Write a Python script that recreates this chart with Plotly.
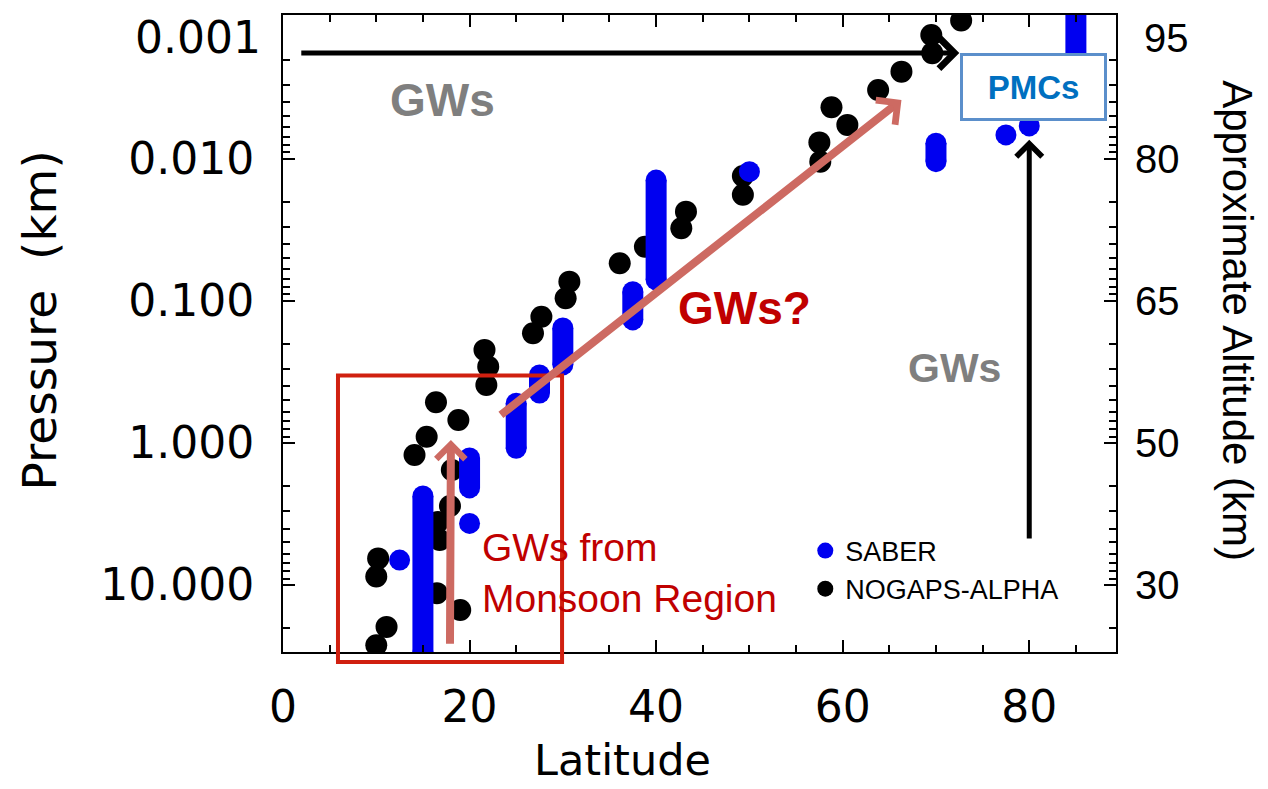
import math
import plotly.graph_objects as go

# ---------------- data ----------------
nogaps_lat = [10.0, 11.1, 10.2, 10.0, 16.5, 19.0, 16.6, 16.8, 17.9, 18.1, 14.1, 15.4,
              16.4, 18.8, 21.8, 22.0, 21.6, 26.8, 27.7, 30.3, 30.7, 36.1, 38.8, 42.7,
              43.2, 49.3, 49.3, 57.6, 57.5, 58.8, 60.5, 63.8, 66.3, 69.6, 69.5, 72.7]
nogaps_p = [26.5, 19.7, 6.49, 8.71, 11.4, 15.0, 3.60, 4.82, 2.78, 1.55, 1.215, 0.903,
            0.517, 0.689, 0.390, 0.290, 0.221, 0.169, 0.129, 0.0957, 0.0731, 0.0543, 0.0415, 0.0308,
            0.0235, 0.0179, 0.0132, 0.01045, 0.00765, 0.00433, 0.00576, 0.00327, 0.00243, 0.0018, 0.00134, 0.00106]

# SABER: vertical runs of levels (latitude, top pressure, bottom pressure)
saber_col_lat = [15, 20, 25, 27.5, 30, 37.5, 40, 70, 85]
saber_col_top = [2.36, 1.275, 0.525, 0.332, 0.155, 0.086, 0.0141, 0.00775, 0.0008]
saber_col_bottom = [30, 2.07, 1.09, 0.445, 0.282, 0.136, 0.0711, 0.01045, 0.0021]
# SABER: isolated points
saber_pt_lat = [12.5, 20, 50, 77.5, 80]
saber_pt_p = [6.67, 3.68, 0.0123, 0.00678, 0.00586]

pressure_ticks = [0.01, 0.1, 1, 10]
pressure_labels = ["0.010", "0.100", "1.000", "10.000"]
altitude_labels = ["80", "65", "50", "30"]
top_pressure_label = "0.001"
top_altitude_label = "95"
lat_ticks = [0, 20, 40, 60, 80]

# ---------------- build ----------------
L = math.log10
BLUE = "#0000f0"
SALMON = "#cd6a62"
DARKRED = "#c00000"
GRAY = "#7f7f7f"
ARIAL = "Liberation Sans"
TICKFONT = dict(family="DejaVu Sans", size=44, color="black")

col_x, col_y = [], []
for la, t, b in zip(saber_col_lat, saber_col_top, saber_col_bottom):
    col_x += [la, la, None]
    col_y += [t, b, None]

sab_x, sab_y = [], []
for la, t, b in zip(saber_col_lat, saber_col_top, saber_col_bottom):
    sab_x += [la, la]
    sab_y += [t, b]
sab_x += saber_pt_lat
sab_y += saber_pt_p

fig = go.Figure()
fig.add_trace(go.Scatter(x=nogaps_lat, y=nogaps_p, mode="markers", name="NOGAPS-ALPHA",
                         marker=dict(color="black", size=22, line=dict(width=0))))
fig.add_trace(go.Scatter(x=col_x, y=col_y, mode="lines", showlegend=False,
                         line=dict(color=BLUE, width=21), hoverinfo="skip"))
fig.add_trace(go.Scatter(x=sab_x, y=sab_y, mode="markers", name="SABER",
                         marker=dict(color=BLUE, size=21, line=dict(width=0))))
# carrier for the top / right axes
fig.add_trace(go.Scatter(x=[], y=[], xaxis="x2", yaxis="y2", showlegend=False))

y_minor = [m * 10 ** e for e in range(-3, 2) for m in range(2, 10)]
yrange = [L(29.6), L(0.00097)]
xrange = [0, 89.3]

minor_x = dict(dtick=5, ticks="inside", ticklen=7, tickwidth=2, tickcolor="black")
minor_y = dict(tickvals=y_minor, ticks="inside", ticklen=7, tickwidth=2, tickcolor="black")

# the page adds an 8 px body margin at the top-left, so the figure is shifted by 8 px
fig.update_layout(
    width=1260, height=781,
    margin=dict(l=275, r=152, t=7, b=137),
    paper_bgcolor="white", plot_bgcolor="white",
    xaxis=dict(range=xrange, tickvals=lat_ticks, ticks="inside", ticklen=12, tickwidth=2,
               tickcolor="black", showline=True, linecolor="black", linewidth=2, mirror=True,
               showgrid=False, zeroline=False, tickfont=TICKFONT, ticklabelstandoff=15,
               automargin=False, minor=minor_x),
    xaxis2=dict(range=xrange, overlaying="x", side="top", anchor="y2", tickvals=lat_ticks,
                ticks="inside", ticklen=12, tickwidth=2, tickcolor="black", showticklabels=False,
                showline=False, showgrid=False, zeroline=False, automargin=False, minor=minor_x),
    yaxis=dict(type="log", range=yrange, tickvals=pressure_ticks, ticktext=pressure_labels,
               ticks="inside", ticklen=12, tickwidth=2, tickcolor="black", showline=True,
               linecolor="black", linewidth=2, mirror=True, showgrid=False, zeroline=False,
               tickfont=TICKFONT, ticklabelstandoff=18, automargin=False, minor=minor_y),
    yaxis2=dict(type="log", range=yrange, overlaying="y", side="right", anchor="x2",
                tickvals=pressure_ticks, ticktext=altitude_labels, ticks="inside", ticklen=12,
                tickwidth=2, tickcolor="black", showline=False, showgrid=False, zeroline=False,
                tickfont=dict(family=ARIAL, size=40, color="black"), ticklabelstandoff=18,
                automargin=False, minor=minor_y),
    legend=dict(x=0.627, y=0.197, xanchor="left", yanchor="top", traceorder="reversed",
                bgcolor="rgba(0,0,0,0)", font=dict(family=ARIAL, size=27, color="black"),
                itemsizing="trace", tracegroupgap=0),
    showlegend=True,
)

# top tick labels (drawn slightly below the 0.001 tick as in the original)
fig.add_annotation(xref="paper", yref="y", x=0, y=L(0.001), xanchor="right", yanchor="middle",
                   xshift=-20, yshift=-21, text=top_pressure_label, showarrow=False,
                   font=TICKFONT)
fig.add_annotation(xref="paper", yref="y", x=1, y=L(0.001), xanchor="left", yanchor="middle",
                   xshift=26, yshift=-21, text=top_altitude_label, showarrow=False,
                   font=dict(family=ARIAL, size=40, color="black"))

# axis titles
fig.add_annotation(xref="paper", yref="paper", x=0.408, y=-0.211, xanchor="center",
                   yanchor="bottom", text="Latitude", showarrow=False, borderpad=0,
                   font=dict(family="DejaVu Sans", size=43, color="black"))
fig.add_annotation(xref="paper", yref="paper", x=-0.292, y=0.52, xanchor="center",
                   yanchor="middle", text="Pressure  (km)", textangle=-90, showarrow=False,
                   font=dict(family="DejaVu Sans", size=47, color="black"))
fig.add_annotation(xref="paper", yref="paper", x=1.146, y=0.52, xanchor="center",
                   yanchor="middle", text="Approximate Altitude (km)", textangle=90,
                   showarrow=False, font=dict(family=ARIAL, size=42, color="black"))

# arrows
fig.add_annotation(x=72.5, y=-2.745, ax=1.8, ay=-2.745, xref="x", yref="y", axref="x", ayref="y",
                   showarrow=True, arrowhead=4, arrowsize=1.2, arrowwidth=5, arrowcolor="black",
                   text="", standoff=0)
fig.add_annotation(x=80, y=L(0.00734), ax=80, ay=L(4.82), xref="x", yref="y", axref="x", ayref="y",
                   showarrow=True, arrowhead=4, arrowsize=1.0, arrowwidth=5, arrowcolor="black",
                   text="", standoff=0)
fig.add_annotation(x=66.3, y=L(0.00384), ax=23.2, ay=L(0.646), xref="x", yref="y", axref="x",
                   ayref="y", showarrow=True, arrowhead=4, arrowsize=0.75, arrowwidth=8,
                   arrowcolor=SALMON, text="", standoff=0)
fig.add_annotation(x=18.0, y=L(0.953), ax=17.9, ay=L(26.5), xref="x", yref="y", axref="x",
                   ayref="y", showarrow=True, arrowhead=4, arrowsize=0.7, arrowwidth=8,
                   arrowcolor=SALMON, text="", standoff=0)

# labels
fig.add_annotation(x=17.1, y=-2.4155, xref="x", yref="y", text="<b>GWs</b>", showarrow=False,
                   font=dict(family=ARIAL, size=46, color=GRAY))
fig.add_annotation(x=49.5, y=-0.951, xref="x", yref="y", text="<b>GWs?</b>", showarrow=False,
                   font=dict(family=ARIAL, size=46, color=DARKRED))
fig.add_annotation(x=72.0, y=-0.528, xref="x", yref="y", text="<b>GWs</b>", showarrow=False,
                   font=dict(family=ARIAL, size=41, color=GRAY))
fig.add_annotation(x=21.1, y=0.9155, xref="x", yref="y", xanchor="left", align="left",
                   text="GWs from<br>Monsoon Region", showarrow=False,
                   font=dict(family=ARIAL, size=39, color=DARKRED))
fig.add_annotation(x=80.45, y=-2.507, xref="x", yref="y", text="<b>PMCs</b>", showarrow=False,
                   width=139, height=60, bgcolor="white", bordercolor="#5b8fcb", borderwidth=3,
                   borderpad=1, font=dict(family=ARIAL, size=33, color="#0070c0"))

# monsoon region box
fig.add_shape(type="rect", xref="paper", yref="paper", x0=0.066, x1=0.335, y0=-0.0157, y1=0.434,
              line=dict(color="#d02010", width=4), fillcolor="rgba(0,0,0,0)", layer="above")

fig.write_html("out.html")
